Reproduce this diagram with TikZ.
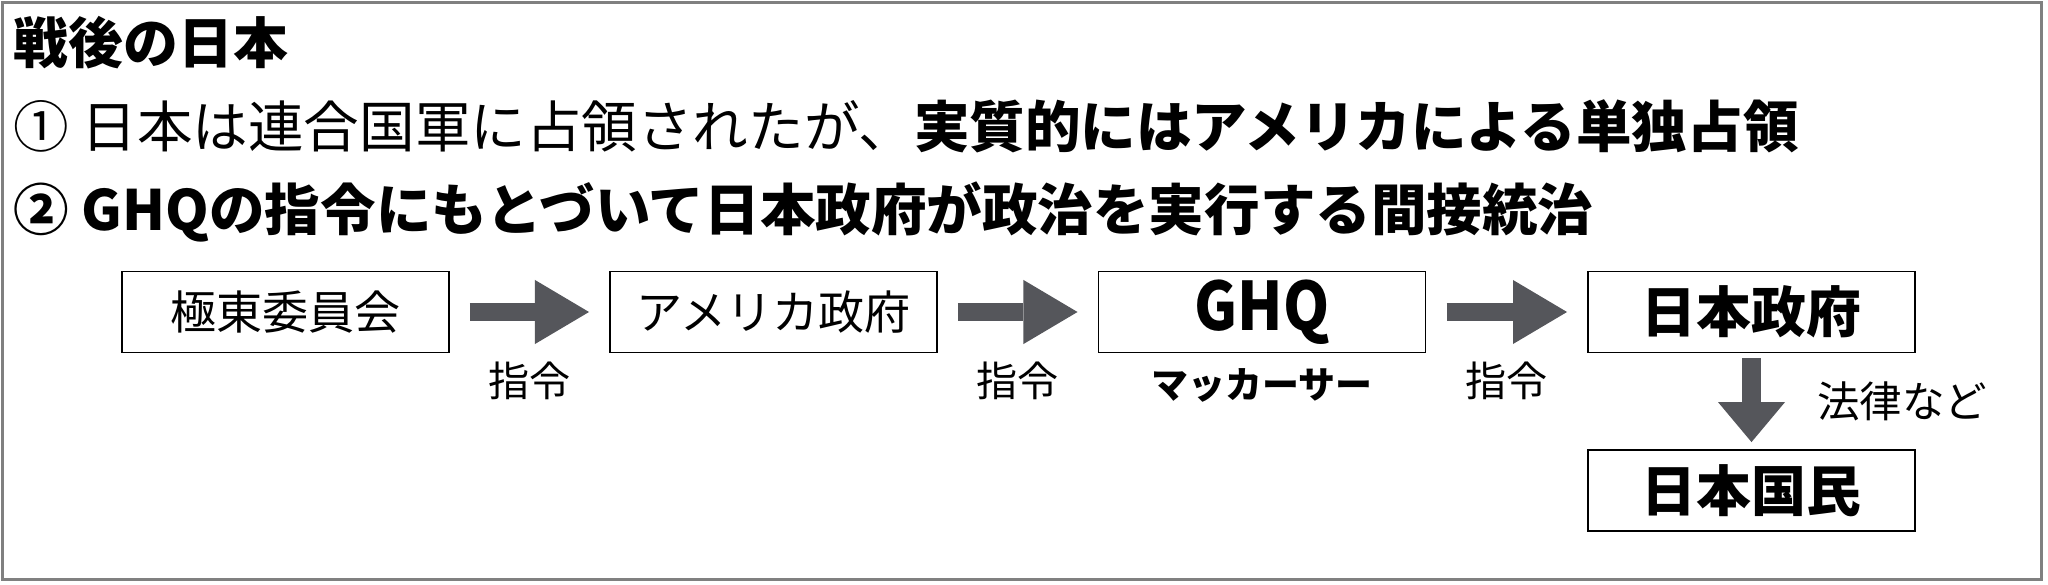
\documentclass[tikz,border=0pt]{standalone}
\usepackage{fontspec}
\setmainfont{Noto Sans CJK JP}
\usetikzlibrary{arrows.meta, positioning}
\definecolor{arrowgray}{RGB}{85,86,91}
\definecolor{framegray}{RGB}{128,128,128}

\tikzset{
  box/.style={draw=black, line width=0.5pt, minimum width=3.27cm, minimum height=0.81cm, inner sep=0pt},
  boldbox/.style={box, font=\bfseries\fontsize{15.6}{18}\selectfont},
  plainbox/.style={box, font=\fontsize{13.1}{16}\selectfont},
  lbl/.style={text=black, inner sep=0pt, font=\fontsize{11.7}{14}\selectfont},
  rightarrow/.style={arrowgray, line width=0.18cm, -{Triangle[length=0.54cm, width=0.64cm, line width=0pt]}, shorten <=0.2cm, shorten >=0.2cm},
  downarrow/.style={arrowgray, line width=0.19cm, -{Triangle[length=0.40cm, width=0.67cm, line width=0pt]}, shorten <=0.05cm, shorten >=0.07cm}
}

\begin{document}
\begin{tikzpicture}[x=0.01cm, y=0.01cm]
\useasboundingbox (0,0) rectangle (2048,-585);

% Frame
\draw[framegray, line width=0.03cm] (2.5,-2.5) rectangle (2041.5,-579.5);

% Heading and points
\node[anchor=west, inner sep=0pt, font=\bfseries\fontsize{15.6}{18}\selectfont] (title) at (13,-43) {戦後の日本};
\node[anchor=west, inner sep=0pt, font=\fontsize{15.8}{19}\selectfont] (point1) at (13,-126.5) {① 日本は連合国軍に占領されたが、\textbf{実質的にはアメリカによる単独占領}};
\node[anchor=west, inner sep=0pt, font=\bfseries\fontsize{15.8}{19}\selectfont] (point2) at (13,-211.5) {② GHQの指令にもとづいて日本政府が政治を実行する間接統治};

% Chain of command
\node[plainbox] (kyokuto) at (285.5,-312) {極東委員会};
\node[plainbox] (america) at (773.5,-312) {アメリカ政府};
\node[box, font=\bfseries\fontsize{19}{22}\selectfont] (ghq) at (1262,-312) {\scalebox{0.88}[1]{GHQ}};
\node[boldbox] (seifu) at (1751.5,-312) {日本政府};
\node[boldbox] (kokumin) at (1751.5,-490.5) {日本国民};

\node[lbl, font=\bfseries\fontsize{10.5}{13}\selectfont, below=0.14cm of ghq] (macarthur) {マッカーサー};

% Arrows
\draw[rightarrow] (kyokuto) -- node[lbl, yshift=-0.69cm] {指令} (america);
\draw[rightarrow] (america) -- node[lbl, yshift=-0.69cm] {指令} (ghq);
\draw[rightarrow] (ghq) -- node[lbl, yshift=-0.69cm] {指令} (seifu);
\draw[downarrow] (seifu) -- node[lbl, font=\fontsize{12.1}{14}\selectfont, right=0.56cm] {法律など} (kokumin);

\end{tikzpicture}
\end{document}
